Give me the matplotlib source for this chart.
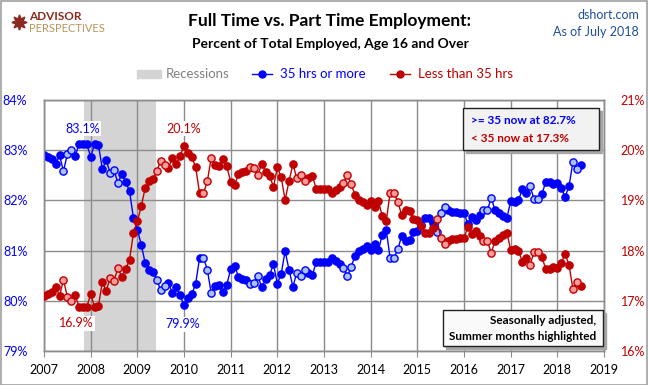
import numpy as np
import matplotlib.pyplot as plt
from matplotlib.lines import Line2D
from matplotlib.patches import Rectangle

plt.rcParams['font.family'] = ['Lato', 'DejaVu Sans']

# monthly values, Jan 2007 .. Jul 2018 (percent of total employed)
full_time = [
    82.90, 82.86, 82.82, 82.72, 82.90, 82.58, 82.92, 83.00, 82.88, 83.12, 83.13, 83.12,  # 2007
    82.87, 83.12, 83.10, 82.63, 82.80, 82.55, 82.60, 82.35, 82.52, 82.37, 82.18, 81.65,  # 2008
    81.42, 81.12, 80.76, 80.62, 80.58, 80.42, 80.21, 80.30, 80.35, 80.16, 80.28, 80.11,  # 2009
    79.91, 80.05, 80.13, 80.34, 80.85, 80.86, 80.62, 80.15, 80.30, 80.32, 80.17, 80.32,  # 2010
    80.63, 80.70, 80.48, 80.43, 80.41, 80.33, 80.36, 80.49, 80.27, 80.43, 80.51, 80.73,  # 2011
    80.34, 80.54, 80.99, 80.62, 80.28, 80.56, 80.50, 80.61, 80.56, 80.51, 80.77, 80.77,  # 2012
    80.77, 80.78, 80.85, 80.80, 80.73, 80.66, 80.49, 80.68, 80.90, 81.00, 81.04, 81.09,  # 2013
    81.02, 81.13, 81.01, 81.32, 81.42, 80.85, 80.86, 81.03, 81.30, 81.20, 81.22, 81.37,  # 2014
    81.40, 81.51, 81.65, 81.64, 81.55, 81.37, 81.74, 81.87, 81.81, 81.76, 81.76, 81.74,  # 2015
    81.75, 81.53, 81.66, 81.60, 81.70, 81.80, 81.80, 82.05, 81.80, 81.75, 81.68, 81.64,  # 2016
    81.98, 81.97, 82.00, 82.22, 82.14, 82.28, 82.03, 82.03, 82.12, 82.36, 82.37, 82.32,  # 2017
    82.35, 82.25, 82.07, 82.28, 82.76, 82.62, 82.70,                                      # 2018
]
part_time = [
    17.10, 17.14, 17.18, 17.28, 17.10, 17.42, 17.08, 17.00, 17.12, 16.88, 16.87, 16.88,  # 2007
    17.13, 16.88, 16.90, 17.37, 17.20, 17.45, 17.40, 17.65, 17.48, 17.63, 17.82, 18.35,  # 2008
    18.58, 18.88, 19.24, 19.38, 19.42, 19.58, 19.79, 19.70, 19.65, 19.84, 19.72, 19.89,  # 2009
    20.09, 19.95, 19.87, 19.66, 19.15, 19.14, 19.38, 19.85, 19.70, 19.68, 19.83, 19.68,  # 2010
    19.37, 19.30, 19.52, 19.57, 19.59, 19.67, 19.64, 19.51, 19.73, 19.57, 19.49, 19.27,  # 2011
    19.66, 19.46, 19.01, 19.38, 19.72, 19.44, 19.50, 19.39, 19.44, 19.49, 19.23, 19.23,  # 2012
    19.23, 19.22, 19.15, 19.20, 19.27, 19.34, 19.51, 19.32, 19.10, 19.00, 18.96, 18.91,  # 2013
    18.98, 18.87, 18.99, 18.68, 18.58, 19.15, 19.14, 18.97, 18.70, 18.80, 18.78, 18.63,  # 2014
    18.60, 18.49, 18.35, 18.36, 18.45, 18.63, 18.26, 18.13, 18.19, 18.24, 18.24, 18.26,  # 2015
    18.25, 18.47, 18.34, 18.40, 18.30, 18.20, 18.20, 17.95, 18.20, 18.25, 18.32, 18.36,  # 2016
    18.02, 18.03, 18.00, 17.78, 17.86, 17.72, 17.97, 17.97, 17.88, 17.64, 17.63, 17.68,  # 2017
    17.65, 17.75, 17.93, 17.72, 17.24, 17.38, 17.30,                                      # 2018
]
start_year = 2007
summer_months = [6, 7, 8]
# in the source chart the last two 2018 readings before the latest are the light ones
last_year_light = [5, 6]
recession = (2007.85, 2009.40)
years = list(range(2007, 2020))
left_ticks = [79, 80, 81, 82, 83, 84]
right_ticks = [16, 17, 18, 19, 20, 21]

BLUE = '#0000FF'
LBLUE = '#A9C1FF'
RED = '#C00000'
LRED = '#FF9A9A'
GRID = '#8C8C8C'

W, H = 648, 385
def fx(x):
    return x / W
def fy(y):
    return 1 - y / H

ft = np.array(full_time)
pt = np.array(part_time)
n = len(ft)
x = start_year + np.arange(n) / 12
month = np.arange(n) % 12 + 1
yr = start_year + np.arange(n) // 12
summer = np.isin(month, summer_months)
last = yr == yr[-1]
summer[last] = np.isin(month[last], last_year_light)

fig = plt.figure(figsize=(W / 100, H / 100), dpi=100)
ax = fig.add_axes([fx(44), fy(351), fx(604) - fx(44), fy(100) - fy(351)])
ax2 = ax.twinx()

ax.axvspan(*recession, color='#D4D4D4', lw=0, zorder=0.2)

# full time (left axis)
ax.plot(x, ft, '-', color=BLUE, lw=1, zorder=3)
ax.plot(x[~summer], ft[~summer], 'o', ms=5.2, mfc=BLUE, mec=BLUE, zorder=4)
ax.plot(x[summer], ft[summer], 'o', ms=5.2, mfc=LBLUE, mec=BLUE, mew=1, zorder=4)

# part time (right axis)
ax2.plot(x, pt, '-', color=RED, lw=1, zorder=3)
ax2.plot(x[~summer], pt[~summer], 'o', ms=5.2, mfc=RED, mec=RED, zorder=4)
ax2.plot(x[summer], pt[summer], 'o', ms=5.2, mfc=LRED, mec=RED, mew=1, zorder=4)

ax.set_xlim(years[0], years[-1])
ax.set_ylim(left_ticks[0], left_ticks[-1])
ax2.set_ylim(right_ticks[0], right_ticks[-1])
ax.set_xticks(years)
ax.set_xticklabels([str(y) for y in years])
ax.set_yticks(left_ticks)
ax.set_yticklabels([f'{v}%' for v in left_ticks])
ax2.set_yticks(right_ticks)
ax2.set_yticklabels([f'{v}%' for v in right_ticks])

ax.grid(True, color=GRID, lw=1)
ax.set_axisbelow(True)
for a in (ax, ax2):
    for s in a.spines.values():
        s.set_color(GRID)
        s.set_linewidth(1)
ax.tick_params(axis='x', length=4, color=GRID, labelsize=9, labelcolor='black', pad=5)
ax.tick_params(axis='y', length=0, labelsize=9, labelcolor=BLUE, pad=12)
ax2.tick_params(axis='y', length=0, labelsize=9, labelcolor=RED, pad=12)

# extreme value labels
lab = dict(fontsize=9, ha='center', va='center', zorder=6,
           bbox=dict(facecolor='white', edgecolor='none', pad=1))
ax.text(2007.83, 83.43, '83.1%', color=BLUE, **lab)
ax.text(2010.0, 83.43, '20.1%', color=RED, **lab)
ax.text(2007.70, 79.55, '16.9%', color=RED, **lab)
ax.text(2009.97, 79.53, '79.9%', color=BLUE, **lab)

# titles
fig.text(fx(330), fy(21), 'Full Time vs. Part Time Employment:', ha='center', va='center',
         fontsize=12.5, fontweight='bold')
fig.text(fx(330), fy(44), 'Percent of Total Employed, Age 16 and Over', ha='center', va='center',
         fontsize=10, fontweight='bold')
fig.text(fx(639), fy(15), 'dshort.com', ha='right', va='center', fontsize=9, color='#1F4E9B')
fig.text(fx(639), fy(32), 'As of July 2018', ha='right', va='center', fontsize=9, color='#1F4E9B')

# logo
fig.lines.append(Line2D([fx(19)], [fy(22)], marker=(8, 1, 0), ms=11, color='#8B2A1E',
                        transform=fig.transFigure))
fig.text(fx(29), fy(16), 'ADVISOR', ha='left', va='center', fontsize=8.5,
         fontweight='bold', color='#8B2A1E')
fig.text(fx(29), fy(28), 'PERSPECTIVES', ha='left', va='center', fontsize=8, color='#B8955A')

# legend
fig.patches.append(Rectangle((fx(137), fy(78)), fx(24), fy(70) - fy(78), color='#D4D4D4',
                             transform=fig.transFigure))
fig.text(fx(166), fy(74), 'Recessions', ha='left', va='center', fontsize=9.5, color='#808080')
fig.lines.append(Line2D([fx(252), fx(272)], [fy(74), fy(74)], color=BLUE, lw=1,
                        transform=fig.transFigure))
fig.lines.append(Line2D([fx(262)], [fy(74)], marker='o', ms=5, color=BLUE,
                        transform=fig.transFigure))
fig.text(fx(280), fy(74), '35 hrs or more', ha='left', va='center', fontsize=9.5, color=BLUE)
fig.lines.append(Line2D([fx(390), fx(410)], [fy(74), fy(74)], color=RED, lw=1,
                        transform=fig.transFigure))
fig.lines.append(Line2D([fx(400)], [fy(74)], marker='o', ms=5, color=RED,
                        transform=fig.transFigure))
fig.text(fx(418), fy(74), 'Less than 35 hrs', ha='left', va='center', fontsize=9.5, color=RED)

# info boxes with shadow
def shadow_box(x0, y0, x1, y1, face):
    fig.patches.append(Rectangle((fx(x0 + 3), fy(y1 + 3)), fx(x1 - x0), fy(y0) - fy(y1),
                                 color='#A6A6A6', transform=fig.transFigure, zorder=5))
    fig.patches.append(Rectangle((fx(x0), fy(y1)), fx(x1 - x0), fy(y0) - fy(y1),
                                 facecolor=face, edgecolor='#202020', lw=1,
                                 transform=fig.transFigure, zorder=6))

shadow_box(463, 108, 599, 150, '#F2F2F2')
fig.text(fx(471), fy(121), '>= 35 now at 82.7%', ha='left', va='center', fontsize=8.5,
         fontweight='bold', color=BLUE, zorder=7)
fig.text(fx(471), fy(138), '< 35 now at 17.3%', ha='left', va='center', fontsize=8.5,
         fontweight='bold', color=RED, zorder=7)

shadow_box(443, 310, 603, 346, '#FAFAFA')
fig.text(fx(596), fy(321), 'Seasonally adjusted,', ha='right', va='center', fontsize=8.5,
         fontweight='bold', color='black', zorder=7)
fig.text(fx(596), fy(337), 'Summer months highlighted', ha='right', va='center', fontsize=8.5,
         fontweight='bold', color='black', zorder=7)

# outer frame
fig.patches.append(Rectangle((0.5 / W, 0.5 / H), 1 - 1.5 / W, 1 - 1.5 / H, fill=False,
                             edgecolor='#A0A0A0', lw=1.2, transform=fig.transFigure))

fig.savefig('out.png', dpi=100)
